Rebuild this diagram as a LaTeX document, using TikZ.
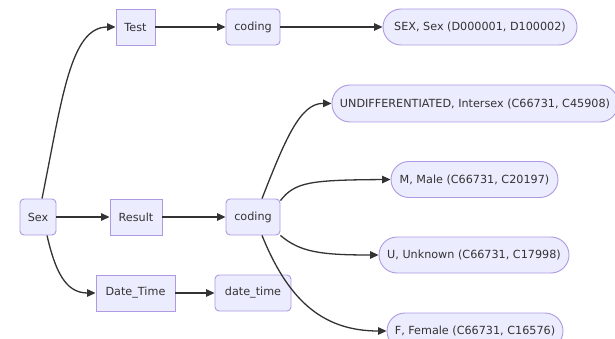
\documentclass[tikz,border=0pt]{standalone}
\usepackage{fontspec}
\setmainfont{DejaVu Sans}
\usetikzlibrary{arrows.meta,calc}
\definecolor{nodefill}{HTML}{ECECFF}
\definecolor{nodeline}{HTML}{AE99E2}
\definecolor{ink}{HTML}{333333}

\begin{document}
\begin{tikzpicture}[x=1pt,y=-1pt,
  box/.style={draw=nodeline, fill=nodefill, line width=0.9pt, minimum height=36pt,
              inner sep=0pt, text=ink, font=\fontsize{11.2}{13}\selectfont},
  sqbox/.style={box},
  rbox/.style={box, rounded corners=4pt},
  pill/.style={box, rounded corners=18pt},
  link/.style={draw=ink, line width=1.3pt, -{Triangle[length=8.5pt,width=7.5pt]}}]

  % canvas
  \fill[white] (0,0) rectangle (615,339);
  \useasboundingbox (0,0) rectangle (615,339);

  % entity and attribute nodes
  \node[rbox,  minimum width=36pt] (sex)      at (38,217)    {Sex};
  \node[sqbox, minimum width=39pt] (test)     at (135.5,27)  {Test};
  \node[sqbox, minimum width=52pt] (result)   at (136,217)   {Result};
  \node[sqbox, minimum width=79pt] (datetime) at (135.5,293) {Date\_Time};

  % data type nodes
  \node[rbox, minimum width=54pt] (codingA) at (253,27)  {coding};
  \node[rbox, minimum width=54pt] (codingB) at (253,217) {coding};
  \node[rbox, minimum width=76pt] (dtval)   at (253,293) {date\_time};

  % code values
  \node[pill, minimum width=194pt] (sexcode) at (480,27) {SEX, Sex (D000001, D100002)};
  \node[pill, minimum width=286pt, minimum height=37pt] (undiff) at (475,103.5)
        {UNDIFFERENTIATED, Intersex (C66731, C45908)};
  \node[pill, minimum width=167pt] (male)    at (474.5,179.5) {M, Male (C66731, C20197)};
  \node[pill, minimum width=190pt] (unknown) at (474,255)     {U, Unknown (C66731, C17998)};
  \node[pill, minimum width=176pt] (female)  at (475,331)     {F, Female (C66731, C16576)};

  % straight links
  \draw[link] (test.east)     -- (codingA.west);
  \draw[link] (codingA.east)  -- (sexcode.west);
  \draw[link] (sex.east)      -- (result.west);
  \draw[link] (result.east)   -- (codingB.west);
  \draw[link] (datetime.east) -- (dtval.west);

  % curved links
  \draw[link] ([xshift=4pt]sex.north) .. controls (62,100) and (70,27) .. (test.west);
  \draw[link] ([xshift=9pt]sex.south) .. controls (55,270) and (65,293) .. (datetime.west);
  \draw[link] ([xshift=9pt]codingB.north) .. controls (285,140) and (300,103) .. (undiff.west);
  \draw[link] ([yshift=-2pt]codingB.north east) .. controls (295,182) and (310,180) .. (male.west);
  \draw[link] (codingB.south east) .. controls (300,252) and (320,255) .. (unknown.west);
  \draw[link] ([xshift=9pt]codingB.south) .. controls (287,297) and (320,331) .. (female.west);
\end{tikzpicture}
\end{document}
